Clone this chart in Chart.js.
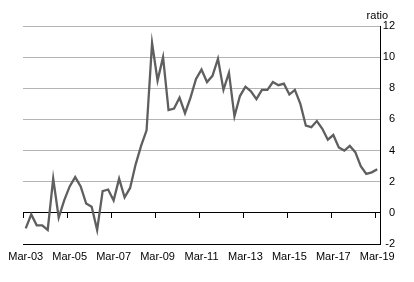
<!DOCTYPE html>
<html lang="en">
<head>
    <meta charset="UTF-8">
    <title>Ratio</title>
    <script src="https://cdn.jsdelivr.net/npm/chart.js"></script>
    <style>
        html, body { margin: 0; padding: 0; background: #fff; }
        #wrap { width: 414px; height: 282px; }
    </style>
</head>
<body>
    <div id="wrap"><canvas id="ratioChart" width="414" height="282"></canvas></div>
    <script>
        // quarterly, Mar-03 to Mar-19
        const quarters = [
            'Mar-03','Jun-03','Sep-03','Dec-03','Mar-04','Jun-04','Sep-04','Dec-04',
            'Mar-05','Jun-05','Sep-05','Dec-05','Mar-06','Jun-06','Sep-06','Dec-06',
            'Mar-07','Jun-07','Sep-07','Dec-07','Mar-08','Jun-08','Sep-08','Dec-08',
            'Mar-09','Jun-09','Sep-09','Dec-09','Mar-10','Jun-10','Sep-10','Dec-10',
            'Mar-11','Jun-11','Sep-11','Dec-11','Mar-12','Jun-12','Sep-12','Dec-12',
            'Mar-13','Jun-13','Sep-13','Dec-13','Mar-14','Jun-14','Sep-14','Dec-14',
            'Mar-15','Jun-15','Sep-15','Dec-15','Mar-16','Jun-16','Sep-16','Dec-16',
            'Mar-17','Jun-17','Sep-17','Dec-17','Mar-18','Jun-18','Sep-18','Dec-18',
            'Mar-19'
        ];
        const ratio = [
            -1.0, -0.1, -0.8, -0.8, -1.1, 2.2, -0.3, 0.8,
            1.7, 2.3, 1.7, 0.6, 0.4, -1.1, 1.4, 1.5,
            0.8, 2.2, 1.0, 1.6, 3.1, 4.3, 5.3, 10.9,
            8.5, 10.0, 6.6, 6.7, 7.4, 6.4, 7.4, 8.6,
            9.2, 8.4, 8.8, 9.9, 7.9, 9.0, 6.2, 7.5,
            8.1, 7.8, 7.3, 7.9, 7.9, 8.4, 8.2, 8.3,
            7.6, 7.9, 7.0, 5.6, 5.5, 5.9, 5.4, 4.7,
            5.0, 4.2, 4.0, 4.3, 3.9, 3.0, 2.5, 2.6,
            2.8
        ];
        const yTicks = [-2, 0, 2, 4, 6, 8, 10, 12];
        const labelEvery = 8;
        const unitLabel = 'ratio';

        Chart.defaults.font.family = '"Liberation Sans", Arial, sans-serif';
        Chart.defaults.font.size = 11;
        Chart.defaults.color = '#000';

        // small tick marks on the zero line + unit label
        const extras = {
            id: 'extras',
            afterDraw(chart) {
                const ctx = chart.ctx;
                const xs = chart.scales.x, ys = chart.scales.y;
                const half = (xs.getPixelForValue(1) - xs.getPixelForValue(0)) / 2;
                const y0 = Math.round(ys.getPixelForValue(0));
                ctx.save();
                ctx.strokeStyle = '#000';
                ctx.lineWidth = 1;
                ctx.beginPath();
                for (let i = 0; i < quarters.length; i += labelEvery) {
                    const x = Math.round(xs.getPixelForValue(i) - half) + 0.5;
                    ctx.moveTo(x, y0);
                    ctx.lineTo(x, y0 + 5);
                }
                ctx.stroke();
                ctx.fillStyle = '#000';
                ctx.font = '11px "Liberation Sans", Arial, sans-serif';
                ctx.textAlign = 'right';
                ctx.textBaseline = 'alphabetic';
                ctx.fillText(unitLabel, chart.chartArea.right + 8, 19);
                ctx.restore();
            }
        };

        new Chart(document.getElementById('ratioChart'), {
            type: 'line',
            data: {
                labels: quarters,
                datasets: [{
                    data: ratio,
                    borderColor: '#5f5f5f',
                    borderWidth: 2.3,
                    pointRadius: 0,
                    tension: 0,
                    fill: false
                }]
            },
            options: {
                responsive: false,
                animation: false,
                layout: { padding: { left: 23, right: 19, top: 26, bottom: 0 } },
                plugins: { legend: { display: false }, tooltip: { enabled: false } },
                scales: {
                    x: {
                        type: 'category',
                        offset: true,
                        grid: { display: false, drawTicks: false },
                        border: { display: false },
                        ticks: {
                            autoSkip: false,
                            maxRotation: 0,
                            padding: 6,
                            callback: (v, i) => i % labelEvery === 0 ? quarters[i] : ''
                        },
                        afterFit: s => { s.height = 38; }
                    },
                    y: {
                        position: 'right',
                        min: -2,
                        max: 12,
                        afterBuildTicks: s => { s.ticks = yTicks.map(v => ({ value: v })); },
                        grid: {
                            drawTicks: false,
                            color: c => (c.tick && (c.tick.value === 0 || c.tick.value === -2)) ? '#000' : '#b4b4b4',
                            lineWidth: 1
                        },
                        border: { display: true, color: '#000', width: 1 },
                        ticks: { crossAlign: 'far', padding: 4 },
                        afterFit: s => { s.width = 15; }
                    }
                }
            },
            plugins: [extras]
        });
    </script>
</body>
</html>
